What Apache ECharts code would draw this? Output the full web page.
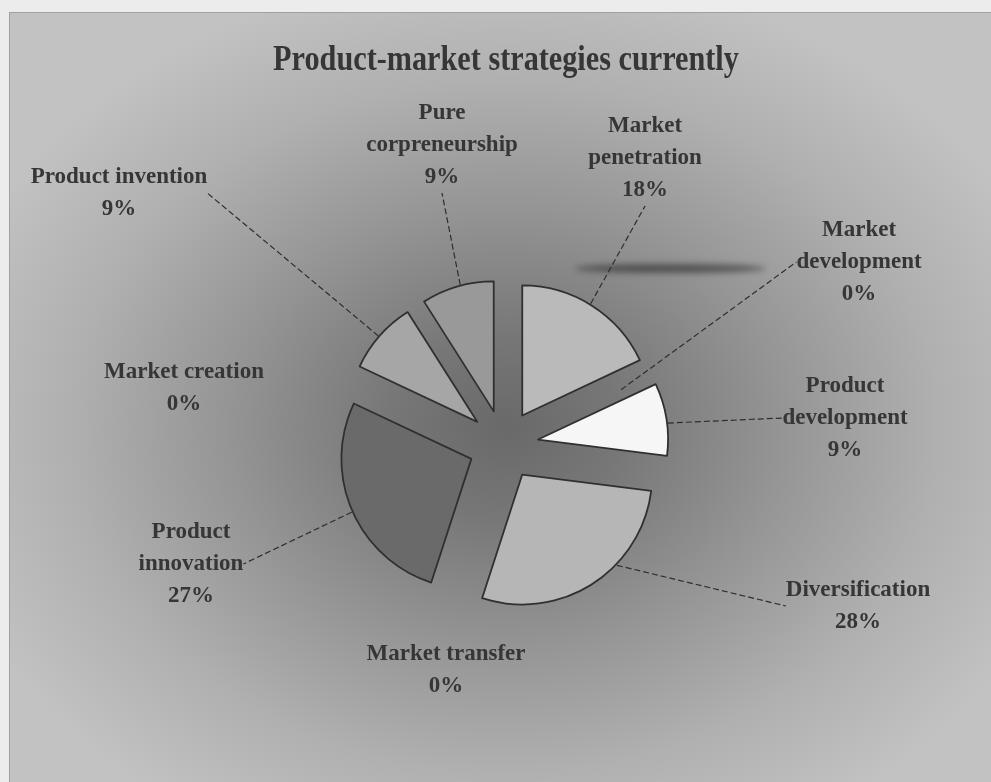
<!DOCTYPE html>
<html>
<head>
<meta charset="utf-8">
<title>Product-market strategies currently</title>
<script src="https://cdn.jsdelivr.net/npm/echarts@6/dist/echarts.min.js"></script>
<style>
  html, body { margin: 0; padding: 0; background: #ececec; }
  #frame {
    position: absolute; left: 9px; top: 12px; width: 982px; height: 770px;
    background: radial-gradient(ellipse 580px 460px at 496px 415px,
      #696969 0%, #777777 20%, #959595 48%, #b0b0b0 75%, #c2c2c2 100%);
    box-shadow: inset 1px 1px 0 #a0a0a0;
  }
  #streak {
    position: absolute; left: 575px; top: 264px; width: 190px; height: 9px;
    background: rgba(40, 40, 40, 0.6); border-radius: 50%; filter: blur(3px);
  }
  #chart { position: absolute; left: 0; top: 0; width: 991px; height: 782px; }
</style>
</head>
<body>
<div id="frame"></div>
<div id="streak"></div>
<div id="chart"></div>
<script>
// Strategy categories, clockwise from twelve o'clock
const categories = [
  'Market\npenetration',
  'Market\ndevelopment',
  'Product\ndevelopment',
  'Diversification',
  'Market transfer',
  'Product\ninnovation',
  'Market creation',
  'Product invention',
  'Pure\ncorpreneurship'
];
// Share of firms (%)
const shares = [18, 0, 9, 28, 0, 27, 0, 9, 9];

// Fill for each slice
const sliceColors = ['#bababa', '#bababa', '#f6f6f6', '#b6b6b6', '#b6b6b6', '#6a6a6a', '#6a6a6a', '#a6a6a6', '#999999'];
// Where each label block is centred
const labelCentres = [
  [645, 158], [859, 262], [845, 418], [858, 606], [446, 670],
  [191, 564], [184, 388], [119, 193], [442, 145]
];
// Labels drawn without a leader line
const noLeader = ['Market transfer', 'Market creation'];

const textColor = '#363636';
const serif = '"Liberation Serif", "Times New Roman", serif';
const pieCenter = [503.5, 445];
const pieRadius = 130;

const chart = echarts.init(document.getElementById('chart'), null, { renderer: 'canvas' });

const sliceStyle = { borderColor: '#303030', borderWidth: 1.8 };

chart.setOption({
  backgroundColor: 'transparent',
  animation: false,
  graphic: [{
    type: 'text',
    x: 506,
    y: 61,
    scaleX: 0.84,
    style: {
      text: 'Product-market strategies currently',
      font: 'bold 36px ' + serif,
      fill: textColor,
      textAlign: 'center',
      textVerticalAlign: 'middle'
    }
  }],
  series: [
    // Labels and leader lines, laid out on the un-exploded pie underneath
    {
      type: 'pie',
      z: 1,
      center: pieCenter,
      radius: pieRadius,
      startAngle: 90,
      clockwise: true,
      silent: true,
      avoidLabelOverlap: false,
      emphasis: { disabled: true },
      itemStyle: { color: 'rgba(0,0,0,0)', borderWidth: 0 },
      label: {
        show: true,
        formatter: '{b}\n{c}%',
        fontFamily: serif,
        fontWeight: 'bold',
        fontSize: 23,
        lineHeight: 32,
        color: textColor,
        align: 'center'
      },
      labelLine: {
        show: true,
        length2: 0.01,
        lineStyle: { color: '#2e2e2e', width: 1.2, type: [6, 3] }
      },
      labelLayout: function (p) {
        const c = labelCentres[p.dataIndex];
        return { x: c[0], y: c[1], align: 'center', verticalAlign: 'middle' };
      },
      data: categories.map(function (name, i) {
        const item = { name: name, value: shares[i] };
        if (noLeader.indexOf(name) >= 0) item.labelLine = { show: false };
        return item;
      })
    },
    // Exploded slices
    {
      type: 'pie',
      z: 3,
      center: pieCenter,
      radius: pieRadius,
      startAngle: 90,
      clockwise: true,
      selectedMode: 'multiple',
      selectedOffset: 35,
      emphasis: { disabled: true },
      itemStyle: sliceStyle,
      select: { itemStyle: sliceStyle },
      label: { show: false },
      labelLine: { show: false },
      data: categories.map(function (name, i) {
        // an empty category has no wedge, so no outline either
        const border = shares[i] > 0 ? sliceStyle.borderWidth : 0;
        return {
          name: name,
          value: shares[i],
          selected: true,
          itemStyle: { color: sliceColors[i], borderWidth: border },
          select: { itemStyle: { borderWidth: border } }
        };
      })
    }
  ]
});
</script>
</body>
</html>
